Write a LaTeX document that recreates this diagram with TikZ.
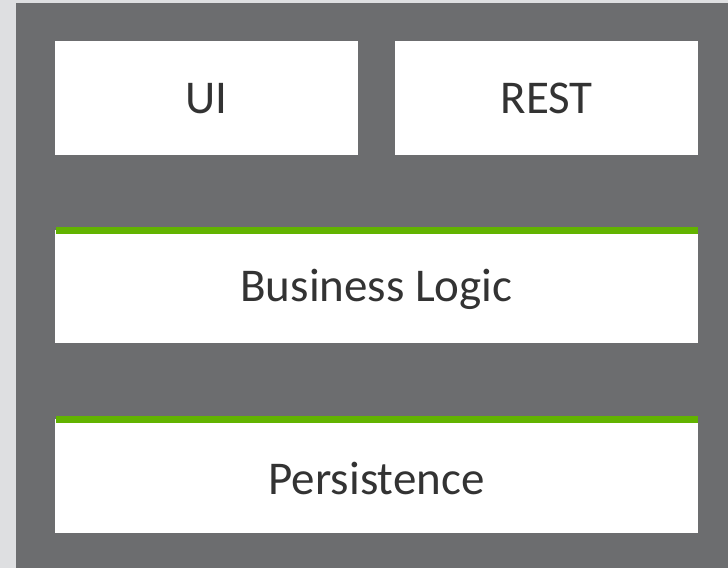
\documentclass[tikz,border=0pt]{standalone}
\usepackage{fontspec}
\setmainfont{Carlito}
\definecolor{bgl}{HTML}{DEDFE1}
\definecolor{bgd}{HTML}{6C6D6F}
\definecolor{grn}{HTML}{62B300}
\definecolor{txt}{HTML}{333333}
\begin{document}
\begin{tikzpicture}[x=1pt,y=-1pt,
  layer/.style={fill=white, draw=none, inner sep=0pt, anchor=north west},
  lbl/.style={text=txt, font=\fontsize{47}{56}\selectfont},
  greenbar/.style={fill=grn, draw=none}]
\fill[bgl] (0,0) rectangle (728,568);
\useasboundingbox (0,0) rectangle (728,568);
\fill[bgd] (16,3) rectangle (728,568);
% top boxes
\node[layer, minimum width=303pt, minimum height=114pt] (ui) at (55,41) {};
\node[lbl] (uit) at (ui.center) {UI};
\node[layer, minimum width=303pt, minimum height=114pt] (rest) at (395,41) {};
\node[lbl] (restt) at (rest.center) {REST};
% business logic
\node[layer, minimum width=643pt, minimum height=113pt] (bl) at (55,230) {};
\fill[greenbar] (56,227) rectangle (698,234);
\node[lbl] (blt) at (376.5,289) {Business Logic};
% persistence
\node[layer, minimum width=643pt, minimum height=114pt] (pers) at (55,419) {};
\fill[greenbar] (56,415.5) rectangle (698,423);
\node[lbl] (perst) at (376.5,478) {Persistence};
\end{tikzpicture}
\end{document}
